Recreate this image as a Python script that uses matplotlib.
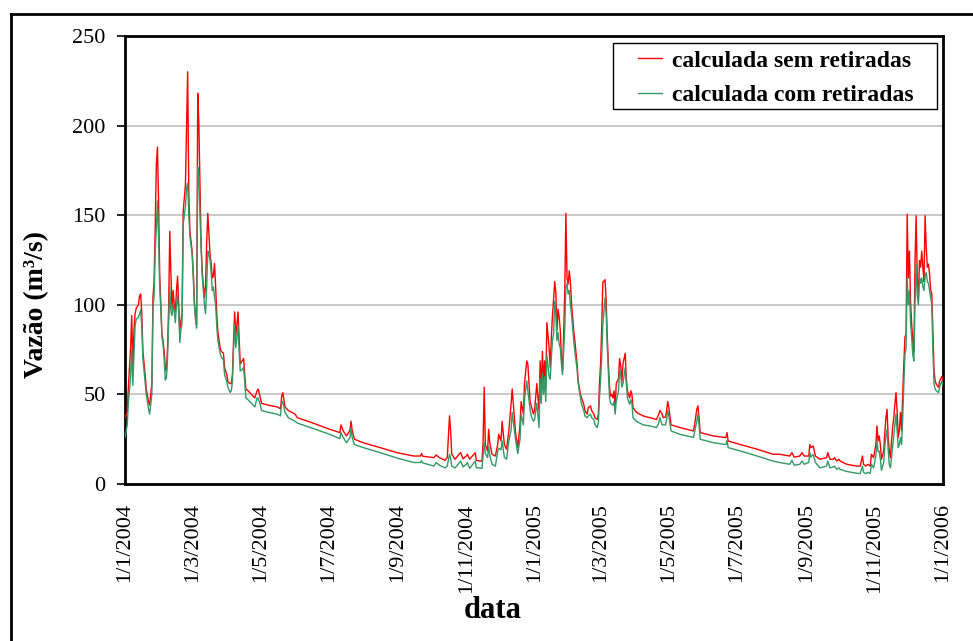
import numpy as np
import matplotlib
matplotlib.use('Agg')
import matplotlib.pyplot as plt
import matplotlib.dates as mdates
from matplotlib.lines import Line2D
from matplotlib.patches import Rectangle

# dias desde 1/1/2004, vazao calculada sem retiradas, vazao calculada com retiradas
dias = [0, 2, 3, 5, 6, 7, 8, 9, 10, 12, 13, 14, 15, 16, 18, 19, 21, 22, 24, 25,
        26, 27, 28, 29, 30, 31, 32, 33, 34, 35, 36, 37, 38, 39, 40, 41, 42, 43, 44, 45,
        46, 47, 48, 49, 50, 51, 52, 54, 55, 56, 57, 58, 60, 61, 62, 63, 64, 65, 66, 67,
        68, 69, 70, 71, 72, 73, 74, 75, 76, 77, 78, 79, 80, 81, 82, 83, 85, 86, 88, 89,
        91, 92, 94, 95, 96, 97, 98, 99, 100, 101, 102, 103, 105, 106, 107, 108, 110, 113, 116, 118,
        119, 121, 122, 128, 136, 139, 140, 141, 143, 146, 152, 154, 168, 183, 192, 193, 195, 198, 201, 202,
        203, 205, 213, 228, 243, 258, 264, 265, 266, 276, 278, 281, 286, 288, 290, 291, 292, 295, 299, 300,
        302, 305, 306, 308, 313, 314, 317, 319, 320, 321, 322, 324, 325, 326, 328, 331, 333, 334, 336, 337,
        339, 341, 343, 345, 346, 348, 349, 351, 353, 354, 356, 357, 359, 360, 362, 363, 365, 366, 368, 370,
        371, 372, 373, 374, 375, 376, 377, 379, 380, 381, 382, 383, 384, 385, 386, 387, 388, 389, 390, 391,
        392, 393, 394, 395, 396, 397, 398, 399, 401, 402, 404, 405, 407, 408, 410, 411, 413, 414, 416, 417,
        419, 420, 422, 423, 424, 425, 426, 427, 429, 430, 431, 432, 433, 434, 435, 436, 437, 438, 439, 441,
        442, 443, 444, 445, 447, 448, 449, 451, 452, 453, 454, 457, 463, 469, 475, 477, 478, 480, 481, 483,
        484, 485, 486, 488, 496, 508, 509, 511, 512, 513, 514, 526, 537, 538, 539, 550, 565, 579, 585, 594,
        596, 598, 603, 605, 607, 611, 612, 613, 615, 617, 621, 627, 628, 630, 633, 634, 636, 638, 639, 645,
        654, 657, 659, 660, 662, 664, 666, 667, 669, 671, 672, 673, 674, 675, 676, 678, 679, 680, 681, 682,
        683, 684, 685, 686, 687, 688, 689, 690, 691, 692, 693, 694, 695, 696, 697, 698, 699, 700, 701, 702,
        703, 704, 705, 706, 707, 708, 709, 710, 711, 712, 713, 714, 715, 716, 717, 718, 719, 720, 721, 722,
        723, 724, 725, 727, 728, 730, 731]

sem_retiradas = [37, 40, 54, 76, 94, 65, 86, 95, 98, 100, 105, 106, 95, 74, 61, 53, 46, 44, 56, 104,
                 113, 143, 178, 188, 158, 117, 100, 84, 80, 74, 65, 63, 76, 98, 141, 118, 98, 108, 100, 96,
                 108, 116, 100, 86, 91, 95, 152, 167, 199, 230, 163, 141, 130, 119, 102, 93, 89, 218, 201, 167,
                 134, 119, 111, 104, 111, 135, 151, 139, 128, 123, 115, 116, 123, 110, 95, 85, 76, 74, 73, 65,
                 61, 57, 56, 56, 61, 80, 96, 83, 89, 96, 82, 67, 69, 70, 61, 53, 52, 50, 48, 52,
                 53, 48, 45, 44, 43, 42, 49, 51, 43, 41, 39, 37, 34, 30.5, 28.7, 33, 29.6, 26.8, 30, 35,
                 30, 25, 23, 20.3, 17.5, 15.6, 15.6, 17, 15.5, 14.7, 16.2, 14.7, 13.2, 14.7, 38, 29.6, 16.6, 13.8, 17, 17.5,
                 14, 15.6, 16.6, 13.8, 17.5, 13.2, 12.8, 12.8, 23, 54, 22, 18.4, 30.5, 23, 16.6, 15.6, 22, 27.7, 24, 35,
                 22, 19.4, 29.6, 44.5, 53, 37, 28.7, 20.3, 33, 46, 39, 56, 68.7, 67, 46, 43.6, 39, 41, 56, 41,
                 68.7, 52, 74, 56, 68.7, 54, 90, 76, 65, 82, 94, 103, 113, 107, 85.5, 97.6, 93, 85.5, 70.6, 63,
                 83.6, 108, 151, 115, 111.5, 119, 113, 101, 85.5, 80, 67, 57.5, 50, 48, 44.5, 41, 39, 42.6, 43.6, 41,
                 39, 37, 36, 39, 56, 67, 87, 112.5, 114, 102, 82, 67, 54, 49, 50, 48, 52, 42.6, 56, 59,
                 70, 66, 56.6, 67, 73, 59, 52, 48, 52, 50, 42.6, 40, 38, 37, 36, 39, 41, 39, 37, 37.4,
                 40.8, 46, 42.6, 33, 31.5, 29.6, 33, 41.7, 43.6, 37, 28.7, 26.8, 25.9, 28.7, 24, 22, 19.4, 16.6, 16.6, 15.6,
                 17.5, 15, 15.6, 17.5, 15.6, 15.6, 22, 20.3, 21.2, 15.6, 13.8, 14.7, 17.5, 13.8, 13.8, 14.7, 12.8, 13.8, 12.8, 11,
                 10, 10, 15.6, 11, 10, 11, 10, 16.6, 14.7, 22, 32.4, 24, 26.8, 22, 13.8, 18.4, 28.7, 37, 41.7, 26,
                 18.4, 14.7, 24, 31.5, 37, 44.5, 51, 40.8, 26, 29.6, 40, 29.6, 50, 67, 82, 83.6, 150.6, 115, 130, 102,
                 89, 80, 74, 124.6, 149.7, 115, 104, 124.6, 121, 130, 121, 113, 149.7, 132, 121, 122.7, 117, 108, 106, 83.6,
                 63, 57.5, 55.7, 54, 57.5, 60, 58]

com_retiradas = [26, 33, 45, 60, 75, 55, 72, 88, 92, 93, 95, 97, 88, 70, 57, 50, 42, 39, 50, 98,
                 105, 130, 142, 158, 138, 110, 98, 82, 78, 70, 58, 59, 70, 90, 110, 96, 94, 100, 96, 90,
                 100, 105, 95, 79, 86, 90, 145, 155, 165, 168, 150, 138, 128, 115, 100, 92, 87, 177, 170, 150,
                 132, 116, 108, 100, 95, 110, 130, 128, 125, 118, 108, 110, 104, 100, 88, 80, 73, 71, 69, 61,
                 57, 54, 51, 52, 57, 75, 89, 76, 82, 88, 74, 63, 64, 65, 57, 48, 47, 45, 43, 48,
                 48, 44, 41, 40, 39, 38, 46, 46, 40, 37, 35, 34, 31, 27.7, 25.3, 28.7, 26, 23, 26, 31.5,
                 26, 22, 20.3, 17.5, 14.5, 12, 12, 13, 11.8, 10, 12, 10.5, 9, 10, 16.6, 14, 10, 9, 12, 12.8,
                 9.5, 11, 12, 8.7, 12.8, 9, 9, 8.7, 16, 23, 17, 14.7, 21, 16, 11, 10, 18, 20, 19, 24,
                 15, 13.8, 24, 30, 40, 30, 25, 17, 25, 39, 33, 47, 57.5, 52, 41.7, 38, 35, 36, 45, 31.5,
                 59, 45, 62, 50, 60, 46, 72, 60, 58.5, 70.6, 80, 83.6, 102, 95, 80, 84.5, 78, 76, 67, 61,
                 74, 87, 110, 112, 106, 108, 100, 95, 80, 74, 64, 56, 48, 44.5, 41, 38, 37, 38, 39, 37,
                 36, 33, 31.5, 34, 48, 58, 70.6, 89, 104, 95, 76, 62, 48, 45, 44.5, 44, 46, 39, 46, 52,
                 64, 61, 54, 56, 65, 56, 48, 44.5, 47, 45, 37, 35, 33, 32.4, 31.5, 34, 37, 33, 33, 33,
                 36, 40.8, 38, 29.6, 27.7, 26, 29, 35, 39, 33, 25, 23, 22, 24.4, 20.3, 18.4, 15.6, 12.8, 12, 11,
                 13.2, 10.5, 11, 12.8, 11, 12, 17.5, 15, 16.6, 12, 9, 10, 12.8, 9, 9.5, 10, 8.2, 9, 8.2, 7,
                 6, 5.8, 10, 6.5, 5.8, 6.5, 6, 11, 9, 16, 24, 18, 18.4, 14, 7.6, 12, 20.3, 27, 30.5, 19,
                 11, 9, 14.7, 21, 26.8, 33, 39, 30, 20.3, 22, 26, 22, 37, 55.7, 72.4, 76, 115, 100, 108, 90,
                 81.8, 72, 68.7, 102, 122.7, 105, 100, 115, 112, 115, 110, 108, 116, 118, 113, 112, 108, 104, 100, 74,
                 55.7, 53, 52, 51, 54, 57.5, 55]

legenda = ['calculada sem retiradas', 'calculada com retiradas']
y_ticks = [0, 50, 100, 150, 200, 250]

plt.rcParams['font.family'] = ['Liberation Serif', 'DejaVu Serif']

datas = np.datetime64('2004-01-01') + np.array(dias).astype('timedelta64[D]')

fig = plt.figure(figsize=(9.73, 6.41), dpi=100)
ax = fig.add_axes([125 / 973, 1 - 484 / 641, 818 / 973, 448 / 641])

ax.plot(datas, sem_retiradas, color='#FF0000', lw=1.0, label=legenda[0], zorder=3)
ax.plot(datas, com_retiradas, color='#339966', lw=1.0, label=legenda[1], zorder=4)

ax.set_xlim(np.datetime64('2004-01-01'), np.datetime64('2006-01-01'))
ax.set_ylim(0, 250)
ax.set_yticks(y_ticks)
ax.yaxis.grid(True, color='#C0C0C0', lw=1.2)
ax.set_axisbelow(True)

ax.xaxis.set_major_locator(mdates.MonthLocator(bymonth=[1, 3, 5, 7, 9, 11]))


def fmt_data(x, pos):
    d = mdates.num2date(x)
    return f'{d.day}/{d.month}/{d.year}'


ax.xaxis.set_major_formatter(plt.FuncFormatter(fmt_data))
plt.setp(ax.get_xticklabels(), rotation=90)
ax.tick_params(axis='x', length=0, pad=14, labelsize=16)
ax.tick_params(axis='y', length=6, width=1.2, pad=8, labelsize=16)

for s in ax.spines.values():
    s.set_linewidth(2)
    s.set_color('black')

# caixa da legenda desenhada a parte (mais folga nas laterais)
caixa = Rectangle((613 / 973, 1 - 109 / 641), 324 / 973, 66 / 641,
                  transform=fig.transFigure, facecolor='white',
                  edgecolor='black', lw=1.0, zorder=5, clip_on=False)
ax.add_patch(caixa)
leg = ax.legend(loc='upper left', bbox_to_anchor=(638 / 973, 1 - 50 / 641),
                bbox_transform=fig.transFigure, borderaxespad=0, borderpad=0,
                frameon=False, fontsize=17, handlelength=1.0, handletextpad=0.45,
                labelspacing=0.55)
leg.set_zorder(6)
for t in leg.get_texts():
    t.set_fontweight('bold')

fig.text(37 / 973, 1 - 305 / 641, 'Vazão (m³/s)', rotation=90, ha='center', va='center',
         fontsize=20, fontweight='bold')
fig.text(493 / 973, 1 - 611 / 641, 'data', ha='center', va='center',
         fontsize=22, fontweight='bold')

# moldura externa do grafico
fig.add_artist(Line2D([11 / 973, 11 / 973], [0, 1 - 14 / 641], color='black', lw=2))
fig.add_artist(Line2D([11 / 973, 1], [1 - 14 / 641, 1 - 14 / 641], color='black', lw=2))

fig.savefig('out.png', dpi=100)
